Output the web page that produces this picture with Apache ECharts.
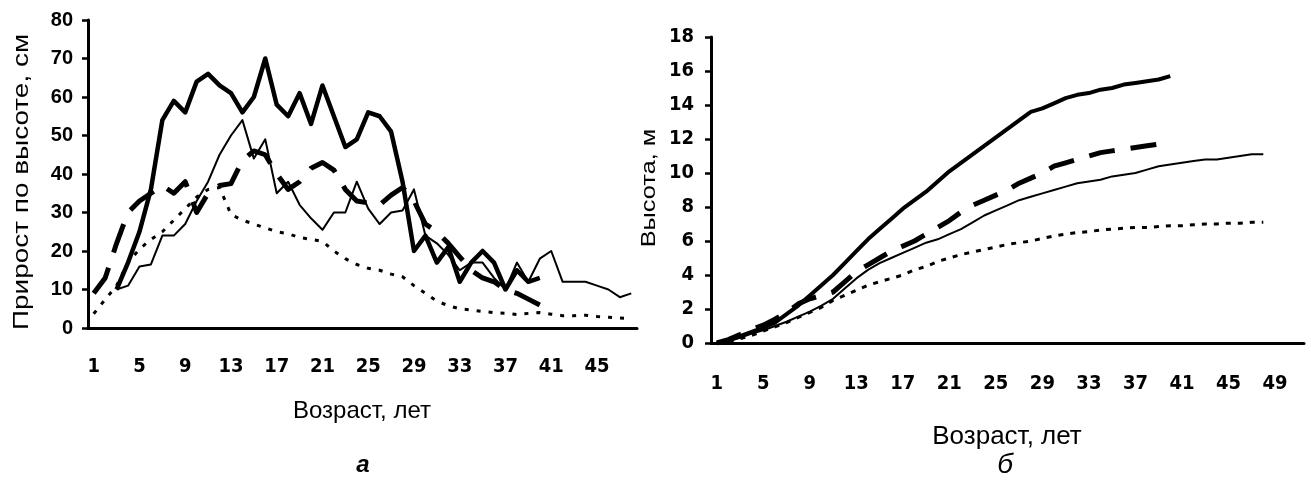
<!DOCTYPE html>
<html>
<head>
<meta charset="utf-8">
<script src="https://cdn.jsdelivr.net/npm/echarts@6/dist/echarts.min.js"></script>
<style>
  html, body { margin: 0; padding: 0; background: #fff; }
  #chart { width: 1311px; height: 482px; }
</style>
</head>
<body>
<div id="chart"></div>
<script>
// возраст (категории)
const leftAges = Array.from({ length: 48 }, (_, i) => String(i + 1));
const rightAges = Array.from({ length: 51 }, (_, i) => String(i + 1));

// а: прирост по высоте, см
const growthThick = [null, null, 10, 17, 25, 36, 54, 59, 56, 64, 66, 63, 61, 56, 60, 70, 58, 55, 61, 53,
  63, 55, 47, 49, 56, 55, 51, 38, 20, 24, 17, 21, 12, 17, 20, 17, 10, 15, 12, 13,
  null, null, null, null, null, null, null, null];
const growthDashed = [9, 13, 22, 30, 33, 35, 37, 35, 38, 30, 35, 37, 37.5, 43.5, 46, 45, 40, 36, 38, 41.5,
  43, 41, 36, 33, 32.5, 32, 34.5, 36.5, 33, 27, 25, 22, 18.5, 15, 13, 12, 10, 9, 7.5, 6,
  null, null, null, null, null, null, null, null];
const growthThin = [null, null, 10, 11, 16, 16.5, 24, 24, 27, 33, 38, 45, 50, 54, 44, 49, 35, 38, 32, 28.5,
  25.5, 30, 30, 38, 31, 27, 30, 30.5, 36, 24, 22, 19, 15, 17, 17, 13, 10, 17, 12, 18,
  20, 12, 12, 12, 11, 10, 8, 9];
const growthDotted = [3.7, 7.4, 11, 17, 20.5, 23, 25, 28, 31, 34, 36, 36.5, 29.5, 28, 27, 26, 25, 24.5, 23.5, 23,
  22.5, 20, 18, 16.5, 15.5, 15, 14, 13.3, 11, 9, 7, 5.8, 5, 4.7, 4.3, 4, 3.8, 3.5, 3.8, 4,
  3.6, 3.2, 3.2, 3.3, 3.0, 2.8, 2.6, 2.5];

// б: высота, м
const heightThick = [0, 0.15, 0.4, 0.65, 0.9, 1.2, 1.7, 2.2, 2.8, 3.4, 4.0, 4.7, 5.4, 6.1, 6.7, 7.3, 7.9, 8.4, 8.9, 9.5,
  10.1, 10.6, 11.1, 11.6, 12.1, 12.6, 13.1, 13.6, 13.8, 14.1, 14.4, 14.6, 14.7, 14.9, 15.0, 15.2, 15.3, 15.4, 15.5, 15.7,
  null, null, null, null, null, null, null, null, null, null, null];
const heightDashed = [0, 0.2, 0.5, 0.8, 1.05, 1.4, 1.8, 2.3, 2.6, 2.8, 3.0, 3.6, 4.2, 4.6, 5.0, 5.4, 5.7, 6.0, 6.4, 6.8,
  7.2, 7.7, 8.1, 8.4, 8.7, 9.0, 9.4, 9.7, 10.0, 10.4, 10.6, 10.8, 11.0, 11.2, 11.3, 11.4, 11.5, 11.6, 11.7, 11.8,
  null, null, null, null, null, null, null, null, null, null, null];
const heightThin = [0, 0.1, 0.3, 0.55, 0.75, 1.0, 1.25, 1.55, 1.85, 2.2, 2.6, 3.2, 3.8, 4.3, 4.7, 5.0, 5.3, 5.6, 5.9, 6.1,
  6.4, 6.7, 7.1, 7.5, 7.8, 8.1, 8.4, 8.6, 8.8, 9.0, 9.2, 9.4, 9.5, 9.6, 9.8, 9.9, 10.0, 10.2, 10.4, 10.5,
  10.6, 10.7, 10.8, 10.8, 10.9, 11.0, 11.1, 11.1, null, null, null];
const heightDotted = [0, 0.1, 0.25, 0.45, 0.7, 0.95, 1.2, 1.5, 1.8, 2.1, 2.5, 2.8, 3.1, 3.4, 3.6, 3.8, 4.0, 4.3, 4.5, 4.8,
  5.0, 5.2, 5.35, 5.5, 5.65, 5.8, 5.9, 6.0, 6.15, 6.3, 6.4, 6.5, 6.55, 6.65, 6.7, 6.75, 6.8, 6.8, 6.85, 6.9,
  6.9, 6.95, 7.0, 7.0, 7.05, 7.05, 7.1, 7.1, null, null, null];

const narrow = "'Liberation Sans Narrow', 'DejaVu Sans Condensed', 'Liberation Sans', Arial, sans-serif";
const sans = "'Liberation Sans', Arial, sans-serif";

const chart = echarts.init(document.getElementById("chart"), null, { renderer: "canvas" });

const xAxisBase = (grid, data, margin) => ({
  type: "category",
  gridIndex: grid,
  data: data,
  boundaryGap: true,
  axisLine: { lineStyle: { color: "#000", width: 3 } },
  axisTick: { interval: 0, length: 6, lineStyle: { color: "#000", width: 2.5 } },
  axisLabel: { interval: 3, margin: margin, color: "#000", fontFamily: narrow, fontWeight: "bold", fontSize: 20 },
  splitLine: { show: false },
});

const yAxisBase = (grid, max, interval, font, margin) => ({
  type: "value",
  gridIndex: grid,
  min: 0,
  max: max,
  interval: interval,
  axisLine: { show: true, lineStyle: { color: "#000", width: 3 } },
  axisTick: { show: true, length: 6, lineStyle: { color: "#000", width: 2.5 } },
  axisLabel: { margin: margin, color: "#000", fontFamily: font, fontWeight: "bold", fontSize: 20 },
  splitLine: { show: false },
});

const line = (idx, data, width, type) => ({
  type: "line",
  xAxisIndex: idx,
  yAxisIndex: idx,
  data: data,
  symbol: "none",
  connectNulls: false,
  lineStyle: { color: "#000", width: width, type: type, cap: "butt", join: "round" },
  z: 3,
});

const option = {
  animation: false,
  backgroundColor: "#fff",
  grid: [
    { left: 88, top: 20, width: 549, height: 308 },
    { left: 711, top: 37, width: 593, height: 306 },
  ],
  xAxis: [xAxisBase(0, leftAges, 29), xAxisBase(1, rightAges, 31)],
  yAxis: [yAxisBase(0, 80, 10, sans, 15), yAxisBase(1, 18, 2, narrow, 17)],
  series: [
    line(0, growthDotted, 3, [4, 8]),
    line(0, growthThin, 2, "solid"),
    line(0, growthDashed, 5, [30, 16]),
    line(0, growthThick, 4.5, "solid"),
    line(1, heightDotted, 3, [5, 7]),
    line(1, heightThin, 2, "solid"),
    line(1, heightDashed, 5, [26, 16]),
    line(1, heightThick, 4, "solid"),
  ],
  graphic: [
    { type: "text", x: 362, y: 411, style: { text: "Возраст, лет", font: "24px " + sans, fill: "#000", textAlign: "center", textVerticalAlign: "middle" } },
    { type: "text", x: 1007, y: 437, style: { text: "Возраст, лет", font: "26px " + sans, fill: "#000", textAlign: "center", textVerticalAlign: "middle" } },
    { type: "text", x: 22, y: 182, rotation: Math.PI / 2, scaleX: 1.3, style: { text: "Прирост по высоте, см", font: "21.5px " + sans, fill: "#000", textAlign: "center", textVerticalAlign: "middle" } },
    { type: "text", x: 650, y: 188, rotation: Math.PI / 2, scaleX: 1.3, style: { text: "Высота, м", font: "19.5px " + sans, fill: "#000", textAlign: "center", textVerticalAlign: "middle" } },
    { type: "text", x: 363, y: 465, style: { text: "а", font: "italic bold 24px " + sans, fill: "#000", textAlign: "center", textVerticalAlign: "middle" } },
    { type: "text", x: 1005, y: 465, style: { text: "б", font: "italic 28px " + sans, fill: "#000", textAlign: "center", textVerticalAlign: "middle" } },
  ],
};

chart.setOption(option);
</script>
</body>
</html>
